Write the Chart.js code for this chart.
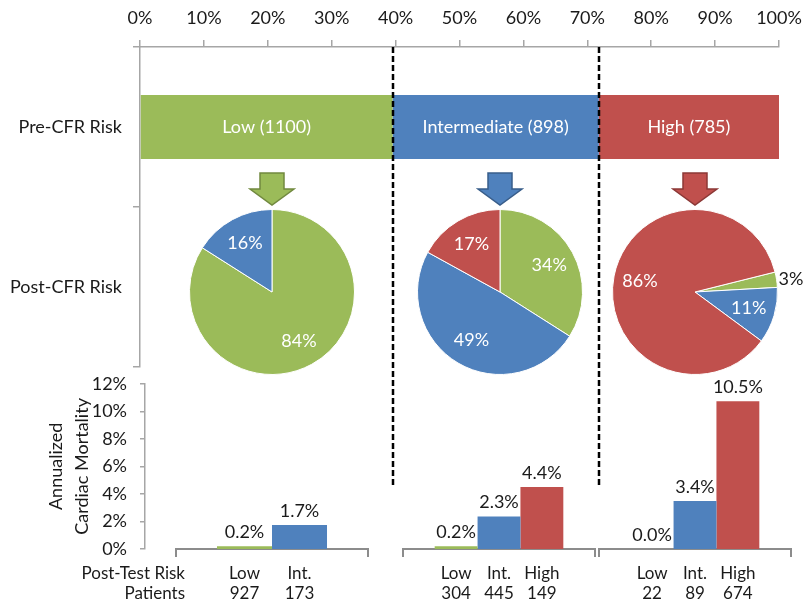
<!DOCTYPE html>
<html>
<head>
<meta charset="utf-8">
<script src="https://cdn.jsdelivr.net/npm/chart.js@4.4.1/dist/chart.umd.min.js"></script>
<style>
    html, body { margin: 0; padding: 0; background: #fff; overflow: hidden; }
    #wrap { position: relative; width: 803px; height: 603px; overflow: hidden; }
    #wrap canvas { position: absolute; }
</style>
</head>
<body>
<div id="wrap">
    <canvas id="riskChart" width="803" height="490" style="left:0;top:0"></canvas>
    <canvas id="pieLow" width="230" height="210" style="left:157px;top:169px"></canvas>
    <canvas id="pieInt" width="230" height="210" style="left:385px;top:169px"></canvas>
    <canvas id="pieHigh" width="230" height="210" style="left:580px;top:169px"></canvas>
    <canvas id="mortAxis" width="200" height="243" style="left:0;top:360px"></canvas>
    <canvas id="mortLow" width="196" height="243" style="left:174px;top:360px"></canvas>
    <canvas id="mortInt" width="196" height="243" style="left:401px;top:360px"></canvas>
    <canvas id="mortHigh" width="196" height="243" style="left:597px;top:360px"></canvas>
</div>
<script>
    // pre-test risk groups
    var riskNames = ['Low', 'Intermediate', 'High'];
    var riskCounts = [1100, 898, 785];
    var rowLabels = ['Pre-CFR Risk', 'Post-CFR Risk'];

    // post-CFR reclassification (%), order: low, int, high
    var pieLowData = [84, 16, 0];
    var pieIntData = [34, 49, 17];
    var pieHighData = [3, 11, 86];

    // annualized cardiac mortality (%)
    var postLabels = ['Low', 'Int.', 'High'];
    var mortLow = [0.2, 1.7];
    var mortInt = [0.2, 2.3, 4.4];
    var mortHigh = [0.0, 3.4, 10.5];
    var patientsLow = [927, 173];
    var patientsInt = [304, 445, 149];
    var patientsHigh = [22, 89, 674];

    var colors = ['#9bbb59', '#4f81bd', '#c0504d'];
    var arrowLines = ['#71893f', '#385d8a', '#8c3836'];

    var FONT = 'Lato, "Open Sans", sans-serif';
    var TEXT = '#1a1a1a';
    var AXIS = '#a6a6a6';

    Chart.defaults.font.family = FONT;
    Chart.defaults.color = TEXT;
    Chart.defaults.animation = false;

    /*
    ----------------------------------
         Pre-CFR stacked bar
    ----------------------------------
    */

    var total = riskCounts.reduce((a, b) => a + b, 0);
    var riskSets = riskNames.map((name, i) => ({
        label: name,
        data: [riskCounts[i] / total * 100, null],
        backgroundColor: colors[i],
        borderWidth: 0
    }));

    const barText = {
        id: 'barText',
        afterDatasetsDraw(chart) {
            const ctx = chart.ctx;
            ctx.save();
            ctx.font = '18px ' + FONT;
            ctx.fillStyle = '#fff';
            ctx.textAlign = 'center';
            ctx.textBaseline = 'middle';
            chart.data.datasets.forEach((ds, i) => {
                const bar = chart.getDatasetMeta(i).data[0];
                ctx.fillText(riskNames[i] + ' (' + riskCounts[i] + ')', (bar.x + bar.base) / 2, bar.y);
            });

            // dashed separators at the group borders
            const xs = chart.scales.x;
            let cum = 0;
            ctx.strokeStyle = '#000';
            ctx.lineWidth = 2.5;
            ctx.setLineDash([6, 3]);
            for (let i = 0; i < riskCounts.length - 1; i++) {
                cum += riskCounts[i] / total * 100;
                const px = Math.round(xs.getPixelForValue(cum));
                ctx.beginPath();
                ctx.moveTo(px, chart.chartArea.top);
                ctx.lineTo(px, chart.height - 2);
                ctx.stroke();
            }
            ctx.restore();
        }
    };

    new Chart(document.getElementById('riskChart'), {
        type: 'bar',
        data: { labels: rowLabels, datasets: riskSets },
        options: {
            responsive: false,
            indexAxis: 'y',
            barPercentage: 0.4,
            categoryPercentage: 1,
            layout: { padding: { left: 0, right: 24, top: 0, bottom: 123 } },
            plugins: { legend: { display: false }, tooltip: { enabled: false } },
            scales: {
                x: {
                    position: 'top',
                    stacked: true,
                    min: 0,
                    max: 100,
                    afterFit(scale) {
                        scale.height = 47;
                        scale.paddingLeft = 0;
                        scale.paddingRight = 0;
                    },
                    border: { color: AXIS, width: 1.5 },
                    grid: { drawOnChartArea: false, tickLength: 7, color: AXIS, lineWidth: 1.5 },
                    ticks: {
                        stepSize: 10,
                        padding: 11,
                        font: { size: 18 },
                        callback: (v) => v + '%'
                    }
                },
                y: {
                    stacked: true,
                    afterFit(scale) { scale.width = 140; },
                    border: { color: AXIS, width: 1.5 },
                    grid: { drawOnChartArea: false, tickLength: 7, color: AXIS, lineWidth: 1.5 },
                    ticks: { padding: 11, font: { size: 18 } }
                }
            }
        },
        plugins: [barText]
    });

    /*
    ----------------------------------
         Post-CFR pies
    ----------------------------------
    */

    const pieDecor = {
        id: 'pieDecor',
        afterDatasetsDraw(chart, args, opts) {
            const ctx = chart.ctx;
            const meta = chart.getDatasetMeta(0);
            const arc0 = meta.data[0];
            const cx = arc0.x, cy = arc0.y;

            // arrow from the pre-CFR bar
            ctx.save();
            ctx.beginPath();
            ctx.moveTo(cx - 12, cy - 119);
            ctx.lineTo(cx + 12, cy - 119);
            ctx.lineTo(cx + 12, cy - 103);
            ctx.lineTo(cx + 22, cy - 103);
            ctx.lineTo(cx, cy - 87);
            ctx.lineTo(cx - 22, cy - 103);
            ctx.lineTo(cx - 12, cy - 103);
            ctx.closePath();
            ctx.fillStyle = opts.fill;
            ctx.fill();
            ctx.lineWidth = 1.5;
            ctx.strokeStyle = opts.line;
            ctx.stroke();

            ctx.font = '18px ' + FONT;
            ctx.textBaseline = 'middle';
            const values = chart.data.datasets[0].data;
            meta.data.forEach((arc, i) => {
                const v = values[i];
                if (!v) return;
                const mid = (arc.startAngle + arc.endAngle) / 2;
                const r = arc.outerRadius;
                if (v >= 5) {
                    ctx.fillStyle = '#fff';
                    ctx.textAlign = 'center';
                    ctx.fillText(v + '%', cx + Math.cos(mid) * r * 0.68, cy + Math.sin(mid) * r * 0.68);
                } else {
                    ctx.fillStyle = TEXT;
                    ctx.textAlign = 'left';
                    ctx.fillText(v + '%', cx + Math.cos(mid) * (r + 2), cy + Math.sin(mid) * (r + 2));
                }
            });
            ctx.restore();
        }
    };

    const makePie = (id, data, rotation, group) => {
        new Chart(document.getElementById(id), {
            type: 'pie',
            data: {
                labels: riskNames,
                datasets: [{
                    data: data,
                    backgroundColor: colors,
                    borderColor: '#fff',
                    borderWidth: 1
                }]
            },
            options: {
                responsive: false,
                rotation: rotation,
                layout: { padding: { top: 40, bottom: 4, left: 0, right: 0 } },
                plugins: {
                    legend: { display: false },
                    tooltip: { enabled: false },
                    pieDecor: { fill: colors[group], line: arrowLines[group] }
                }
            },
            plugins: [pieDecor]
        });
    };

    makePie('pieLow', pieLowData, 0, 0);
    makePie('pieInt', pieIntData, 0, 1);
    makePie('pieHigh', pieHighData, 76, 2);

    /*
    ----------------------------------
         Annualized cardiac mortality
    ----------------------------------
    */

    const rowHeaders = {
        id: 'rowHeaders',
        afterDraw(chart) {
            const ctx = chart.ctx;
            const b = chart.chartArea.bottom;
            ctx.save();
            ctx.font = '17px ' + FONT;
            ctx.fillStyle = TEXT;
            ctx.textAlign = 'right';
            ctx.textBaseline = 'middle';
            ctx.fillText('Post-Test Risk', 185, b + 25);
            ctx.fillText('Patients', 185, b + 45);
            ctx.restore();
        }
    };

    new Chart(document.getElementById('mortAxis'), {
        type: 'bar',
        data: { labels: [''], datasets: [] },
        options: {
            responsive: false,
            layout: { padding: { left: 0, right: 50, top: 20, bottom: 0 } },
            plugins: { legend: { display: false }, tooltip: { enabled: false } },
            scales: {
                x: {
                    afterFit(scale) { scale.height = 54; },
                    border: { display: false },
                    grid: { display: false },
                    ticks: { display: false }
                },
                y: {
                    min: 0,
                    max: 12,
                    afterFit(scale) { scale.width = 145; },
                    border: { color: AXIS, width: 1.5 },
                    grid: { drawOnChartArea: false, tickLength: 5, color: AXIS, lineWidth: 1.5 },
                    ticks: {
                        stepSize: 2,
                        padding: 13,
                        font: { size: 18 },
                        callback: (v) => v + '%'
                    },
                    title: {
                        display: true,
                        text: ['Annualized', 'Cardiac Mortality'],
                        font: { size: 18, lineHeight: 1.4 },
                        padding: { top: 44, bottom: 0 }
                    }
                }
            }
        },
        plugins: [rowHeaders]
    });

    const barLabels = {
        id: 'barLabels',
        afterDatasetsDraw(chart, args, opts) {
            const ctx = chart.ctx;
            const b = chart.chartArea.bottom;
            ctx.save();
            ctx.fillStyle = TEXT;
            ctx.textAlign = 'center';
            chart.data.datasets.forEach((ds, i) => {
                const bar = chart.getDatasetMeta(i).data[0];
                ctx.font = '18px ' + FONT;
                ctx.textBaseline = 'bottom';
                ctx.fillText(ds.data[0].toFixed(1) + '%', bar.x, bar.y - 5);
                ctx.font = '17px ' + FONT;
                ctx.textBaseline = 'middle';
                ctx.fillText(postLabels[i], bar.x, b + 25);
                ctx.fillText(String(opts.patients[i]), bar.x, b + 45);
            });
            ctx.restore();
        }
    };

    const makeMortality = (id, values, patients, catPct) => {
        new Chart(document.getElementById(id), {
            type: 'bar',
            data: {
                labels: [''],
                datasets: values.map((v, i) => ({
                    label: postLabels[i],
                    data: [v],
                    backgroundColor: colors[i],
                    borderWidth: 0
                }))
            },
            options: {
                responsive: false,
                barPercentage: 1,
                categoryPercentage: catPct,
                layout: { padding: { left: 2, right: 2, top: 20, bottom: 0 } },
                plugins: {
                    legend: { display: false },
                    tooltip: { enabled: false },
                    barLabels: { patients: patients }
                },
                scales: {
                    x: {
                        afterFit(scale) { scale.height = 54; },
                        border: { color: '#8c8c8c', width: 2 },
                        grid: { drawOnChartArea: false, tickLength: 8, color: '#8c8c8c', lineWidth: 2 },
                        ticks: { display: false }
                    },
                    y: { display: false, min: 0, max: 12 }
                }
            },
            plugins: [barLabels]
        });
    };

    makeMortality('mortLow', mortLow, patientsLow, 0.573);
    makeMortality('mortInt', mortInt, patientsInt, 0.67);
    makeMortality('mortHigh', mortHigh, patientsHigh, 0.67);
</script>
</body>
</html>
